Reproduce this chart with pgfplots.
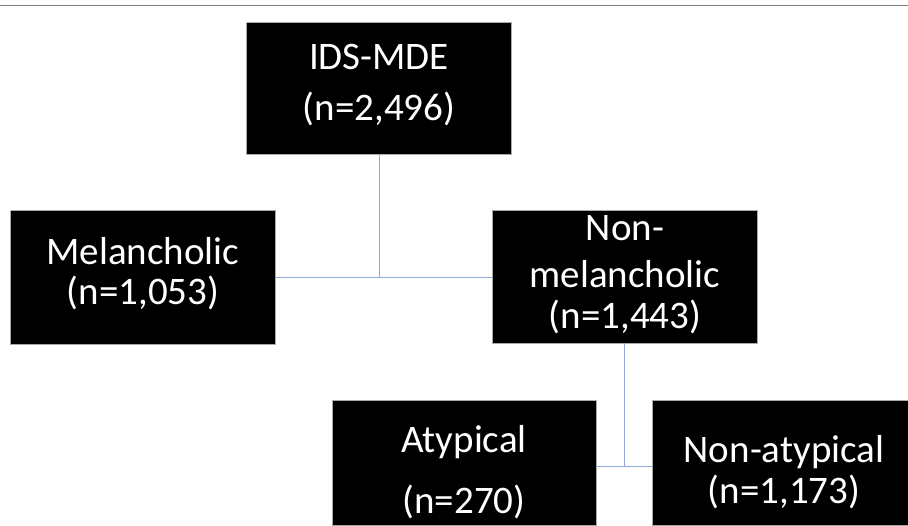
\documentclass[border=0pt]{standalone}
\usepackage{fontspec}
\setmainfont{Carlito}
\usepackage{pgfplots}
\pgfplotsset{compat=1.18}
\definecolor{conn}{RGB}{143,170,220}
\definecolor{boxedge}{RGB}{170,170,170}
\begin{document}
\begin{tikzpicture}
\begin{axis}[
  width=908pt, height=525pt, scale only axis,
  xmin=0, xmax=908, ymin=0, ymax=525, y dir=reverse,
  hide axis, clip=true,
]
% top rule
\addplot[color=gray, line width=1.5pt] coordinates {(0,5.5) (908,5.5)};
% connectors
\addplot[color=conn, line width=1pt] coordinates {(379,154) (379,277)};
\addplot[color=conn, line width=1pt] coordinates {(275.3,277) (492.3,277)};
\addplot[color=conn, line width=1pt] coordinates {(624.7,343) (624.7,466)};
\addplot[color=conn, line width=1pt] coordinates {(596.7,466) (652.7,466)};
% boxes
\addplot[fill=black, draw=boxedge, line width=0.8pt] coordinates {(246.7,22.7) (511.7,22.7) (511.7,154) (246.7,154) (246.7,22.7)};
\addplot[fill=black, draw=boxedge, line width=0.8pt] coordinates {(10.7,210.7) (275.3,210.7) (275.3,344) (10.7,344) (10.7,210.7)};
\addplot[fill=black, draw=boxedge, line width=0.8pt] coordinates {(492.3,210.7) (757.7,210.7) (757.7,343) (492.3,343) (492.3,210.7)};
\addplot[fill=black, draw=boxedge, line width=0.8pt] coordinates {(332,400) (596.7,400) (596.7,525) (332,525) (332,400)};
\addplot[fill=black, draw=boxedge, line width=0.8pt] coordinates {(652.7,400) (908,400) (908,525) (652.7,525) (652.7,400)};
% label anchors
\coordinate (t1) at (axis cs:379,70);
\coordinate (t2) at (axis cs:379,121);
\coordinate (t3) at (axis cs:143,265);
\coordinate (t4) at (axis cs:143,305);
\coordinate (t5) at (axis cs:625,241);
\coordinate (t6) at (axis cs:625,288);
\coordinate (t7) at (axis cs:625,329);
\coordinate (t8) at (axis cs:464,453);
\coordinate (t9) at (axis cs:464,513);
\coordinate (t10) at (axis cs:784,463);
\coordinate (t11) at (axis cs:784,504);
\coordinate (SW) at (axis cs:0,525);
\coordinate (NE) at (axis cs:908,0);
\end{axis}
\begin{scope}[every node/.style={text=white, anchor=base, inner sep=0pt, font=\fontsize{39}{46}\selectfont}]
\node at (t1) {IDS-MDE};
\node at (t2) {(n=2,496)};
\node at (t3) {Melancholic};
\node at (t4) {(n=1,053)};
\node at (t5) {Non-};
\node at (t6) {melancholic};
\node at (t7) {(n=1,443)};
\node at (t8) {Atypical};
\node at (t9) {(n=270)};
\node at (t10) {Non-atypical};
\node at (t11) {(n=1,173)};
\end{scope}
\pgfresetboundingbox
\path[use as bounding box] (SW) rectangle (NE);
\end{tikzpicture}
\end{document}
